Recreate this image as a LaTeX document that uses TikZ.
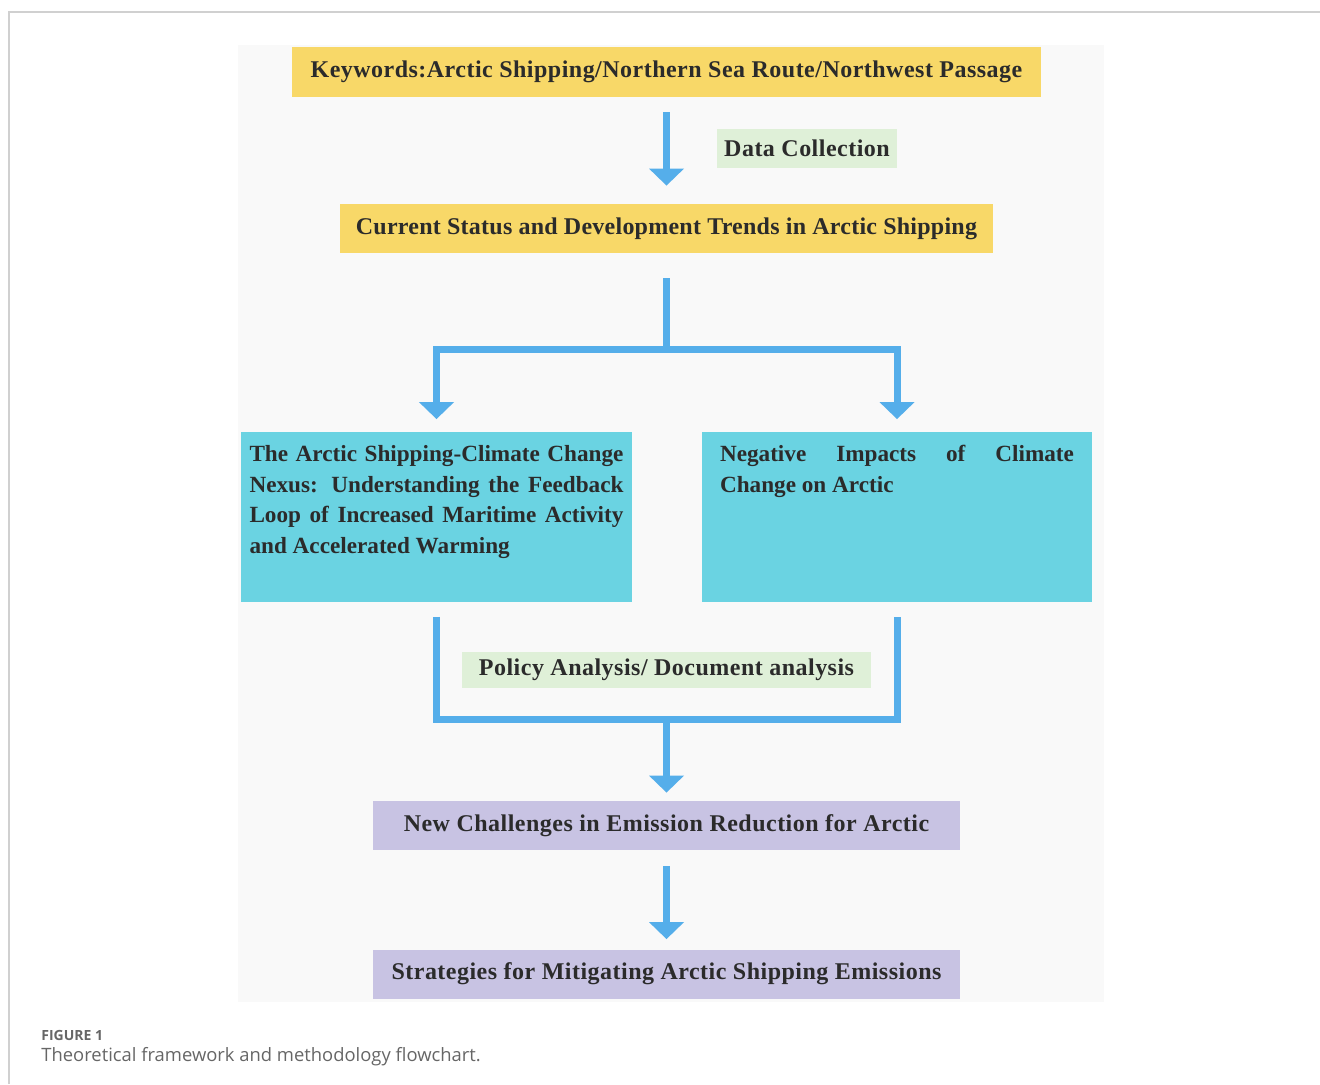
\documentclass[tikz,border=0pt]{standalone}
\usepackage{fontspec}
\setmainfont{Liberation Serif}
\newfontfamily\capfont{Open Sans}
\usetikzlibrary{arrows.meta}
\definecolor{kwyellow}{HTML}{F8D868}
\definecolor{stepgreen}{HTML}{DFF0D8}
\definecolor{nexuscyan}{HTML}{6AD3E2}
\definecolor{reducelilac}{HTML}{C8C3E3}
\definecolor{flowblue}{HTML}{55AEEA}
\definecolor{paneltone}{HTML}{F9F9F9}
\definecolor{framegray}{HTML}{D0D0D0}
\definecolor{inkdark}{HTML}{2B2B2B}
\definecolor{capgray}{HTML}{666666}
\begin{document}
\begin{tikzpicture}[x=0.5pt,y=-0.5pt,
    box/.style={inner sep=0pt,text=inkdark,
      font=\bfseries\fontsize{12}{15.3}\selectfont\addfontfeature{LetterSpace=2}},
    ybox/.style={box,fill=kwyellow},
    gbox/.style={box,fill=stepgreen},
    cbox/.style={box,fill=nexuscyan,minimum height=85pt,
      font=\bfseries\fontsize{11.6}{15.3}\selectfont},
    lbox/.style={box,fill=reducelilac,minimum width=293.5pt,minimum height=24.5pt},
    pipe/.style={draw=flowblue,line width=3.5pt},
    flow/.style={pipe,-{Triangle[width=17pt,length=8.5pt]}}]
  \useasboundingbox (0,0) rectangle (1320,1084);
  \draw[framegray,line width=0.75pt] (9,1084) -- (9,12) -- (1320,12);
  \fill[paneltone] (238,45) rectangle (1104,1002);

  % boxes
  \node[ybox,minimum width=374.5pt,minimum height=25pt] (kw) at (666.5,72)
    {Keywords:Arctic Shipping/Northern Sea Route/Northwest Passage};
  \node[gbox,minimum width=90pt,minimum height=19.5pt] (collect) at (807,148.5)
    {Data Collection};
  \node[ybox,minimum width=326.5pt,minimum height=24.5pt,
    font=\bfseries\fontsize{12}{15.3}\selectfont\addfontfeature{LetterSpace=1}] (status) at (666.5,228.5)
    {Current Status and Development Trends in Arctic Shipping};
  \node[cbox,minimum width=195.5pt] (nexus) at (436.5,516.5)
    {\parbox[c][85pt][t]{187pt}{\rule{0pt}{15pt}The Arctic Shipping-Climate Change\linebreak
      Nexus: Understanding the Feedback\linebreak Loop of Increased Maritime Activity\linebreak
      and Accelerated Warming}};
  \node[cbox,minimum width=195pt] (impact) at (897,516.5)
    {\parbox[c][85pt][t]{177pt}{\rule{0pt}{15pt}Negative Impacts of Climate\linebreak
      Change on Arctic}};
  \node[gbox,minimum width=204.5pt,minimum height=18pt] (policy) at (666.5,670)
    {Policy Analysis/ Document analysis};
  \node[lbox] (reduce) at (666.5,825.5)
    {New Challenges in Emission Reduction for Arctic};
  \node[lbox] (mitigate) at (666.5,974)
    {Strategies for Mitigating Arctic Shipping Emissions};

  % connectors
  \coordinate (split) at (666.5,349);
  \coordinate (merge) at (666.5,719.5);
  \draw[flow,shorten <=7.5pt,shorten >=9pt] (kw) -- (status);
  \draw[pipe,shorten <=12.5pt] (status.south) -- (split);
  \draw[flow,shorten >=6pt] (split) -| (nexus.north);
  \draw[flow,shorten >=6pt] (split) -| (impact.north);
  \draw[pipe,shorten <=7.5pt,shorten >=7.5pt] (nexus.south) |- (merge) -| (impact.south);
  \draw[flow,shorten >=4pt] (merge) -- (reduce.north);
  \draw[flow,shorten <=8pt,shorten >=5pt] (reduce) -- (mitigate);

  % caption
  \node[anchor=base west,inner sep=0pt,text=capgray,font=\capfont\bfseries\fontsize{7}{8}\selectfont]
    (fig) at (41,1040) {FIGURE 1};
  \node[anchor=base west,inner sep=0pt,text=capgray,font=\capfont\fontsize{9.2}{10}\selectfont]
    (title) at (41,1061) {Theoretical framework and methodology flowchart.};
\end{tikzpicture}
\end{document}
